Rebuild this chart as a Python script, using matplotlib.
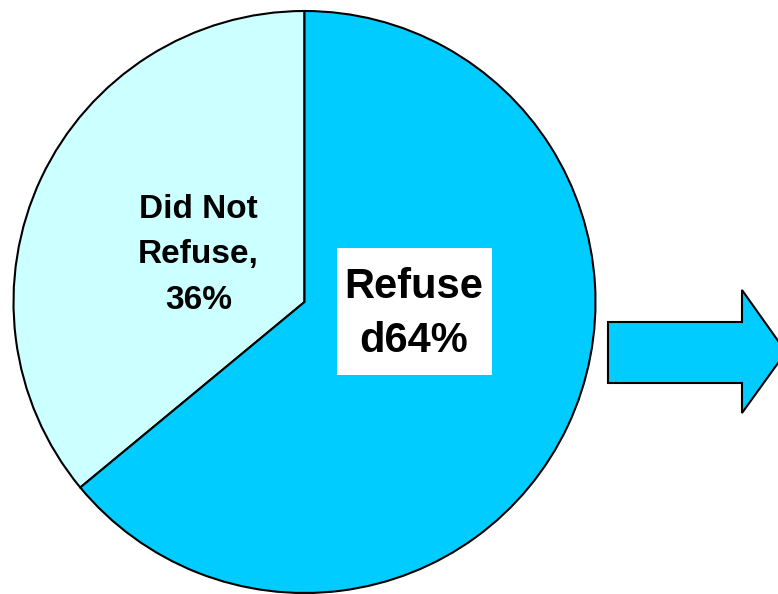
import matplotlib.pyplot as plt
from matplotlib.patches import Polygon, Rectangle

plt.rcParams['font.family'] = ['Liberation Sans', 'DejaVu Sans']

# survey answers, share in percent
answers = ['Did Not Refuse', 'Refused']
shares = [36, 64]
colors = ['#CCFFFF', '#00CCFF']

W, H = 778, 594

fig = plt.figure(figsize=(W / 100, H / 100), dpi=100)
ax = fig.add_axes([0, 0, 1, 1])

cx, cy, r = 304.5, H - 302, 291
ax.pie(shares, colors=colors, startangle=90, counterclock=True,
       center=(cx, cy), radius=r,
       wedgeprops=dict(edgecolor='black', linewidth=1.5))

ax.set_xlim(0, W)
ax.set_ylim(0, H)
ax.set_aspect('auto')
ax.axis('off')

# label for the smaller slice, inside the wedge
ax.text(198.5, H - 255, f'Did Not\nRefuse,\n{shares[0]}%', ha='center', va='center',
        fontsize=24, fontweight='bold', linespacing=1.6)

# label for the larger slice, on a white box
ax.add_patch(Rectangle((337, H - 375), 155, 127, facecolor='white', edgecolor='none'))
ax.text(414, H - 314, f'Refuse\nd{shares[1]}%', ha='center', va='center',
        fontsize=30, fontweight='bold', linespacing=1.45)

# block arrow pointing right
arrow = [(608, 322), (742, 322), (742, 290), (786, 352), (742, 413), (742, 383), (608, 383)]
ax.add_patch(Polygon([(x, H - y) for x, y in arrow], closed=True,
                     facecolor='#00CCFF', edgecolor='black', linewidth=1.5,
                     clip_on=False))

fig.savefig('out.png', dpi=100)
